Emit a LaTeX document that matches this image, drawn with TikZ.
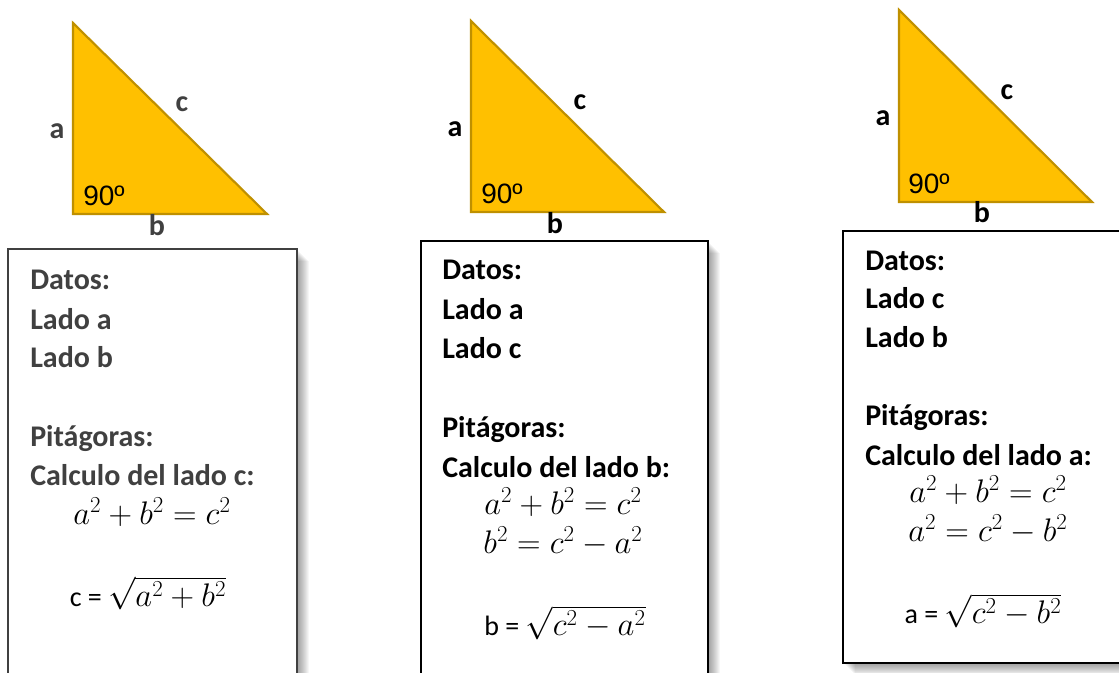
\RequirePackage{fix-cm}
\documentclass[tikz,border=0pt]{standalone}
\usepackage{fontspec}
\setmainfont{Carlito}
\newfontfamily\arialf{Liberation Sans}
\usetikzlibrary{calc}
\definecolor{triFill}{HTML}{FFC000}
\definecolor{triLine}{HTML}{BF9000}
\definecolor{txtA}{HTML}{404040}
\definecolor{boxA}{HTML}{404040}
\tikzset{
  tri/.style={fill=triFill, draw=triLine, line width=1.6pt, line join=miter},
  sidelbl/.style={inner sep=0pt, font=\bfseries\fontsize{22.5}{27}\selectfont},
  ninety/.style={anchor=base west, inner sep=0pt, font=\arialf\fontsize{21}{25}\selectfont},
  txtline/.style={anchor=base west, inner sep=0pt, font=\bfseries\fontsize{22.5}{27}\selectfont},
  eqline/.style={anchor=base, inner sep=0pt, font=\fontsize{24.5}{29}\selectfont},
  boxframe/.style={fill=white, draw=#1, line width=1.5pt},
}
\newcommand{\lhs}[1]{{\fontsize{21}{25}\selectfont #1 = }}
\newcommand{\shadowrect}[4]{%
  \foreach \k in {1,...,12}{%
    \fill[black, opacity=0.035] (#1+\k, #2+\k) rectangle (#3+\k, #4+\k);
  }%
}
\begin{document}
\begin{tikzpicture}[x=0.75pt, y=-0.75pt]
\useasboundingbox (0,0) rectangle (1119,673);
\clip (0,0) rectangle (1119,673);
\fill[white] (0,0) rectangle (1119,673);

% ---------- Triangle 1 ----------
\coordinate (t1top) at (73,23);
\coordinate (t1bl) at (73,214);
\coordinate (t1br) at (267,214);
\draw[tri] (t1top) -- (t1bl) -- (t1br) -- cycle;
\node[sidelbl, text=txtA] (t1a) at (57,131) {a};
\node[sidelbl, text=txtA] (t1c) at (182,104) {c};
\node[sidelbl, text=txtA] (t1b) at (157,225) {b};
\node[ninety] (t1n) at (83,206) {90º};

% ---------- Triangle 2 ----------
\coordinate (t2top) at (471,21);
\coordinate (t2bl) at (471,212);
\coordinate (t2br) at (664,212);
\draw[tri] (t2top) -- (t2bl) -- (t2br) -- cycle;
\node[sidelbl] (t2a) at (455,129) {a};
\node[sidelbl] (t2c) at (580,102) {c};
\node[sidelbl] (t2b) at (555,223) {b};
\node[ninety] (t2n) at (481,204) {90º};

% ---------- Triangle 3 ----------
\coordinate (t3top) at (899,10);
\coordinate (t3bl) at (899,202);
\coordinate (t3br) at (1092,202);
\draw[tri] (t3top) -- (t3bl) -- (t3br) -- cycle;
\node[sidelbl] (t3a) at (883,118) {a};
\node[sidelbl] (t3c) at (1007,92) {c};
\node[sidelbl] (t3b) at (982,212) {b};
\node[ninety] (t3n) at (908,194) {90º};

% ---------- Box 1 ----------
\shadowrect{8}{249}{297}{681}
\draw[boxframe=boxA] (8,249) rectangle (297,681);
\node[txtline, text=txtA] (b1l1) at (30,290) {Datos:};
\node[txtline, text=txtA] (b1l2) at (30,329) {Lado a};
\node[txtline, text=txtA] (b1l3) at (30,367) {Lado b};
\node[txtline, text=txtA] (b1l4) at (30,446) {Pitágoras:};
\node[txtline, text=txtA] (b1l5) at (30,485) {Calculo del lado c:};
\node[eqline] (b1e1) at (152,524) {$a^2+b^2=c^2$};
\node[eqline] (b1e2) at (148,606) {\lhs{c}$\sqrt{a^2+b^2}$};

% ---------- Box 2 ----------
\shadowrect{421}{241}{708}{690}
\draw[boxframe=black] (421,241) rectangle (708,690);
\node[txtline] (b2l1) at (442,280) {Datos:};
\node[txtline] (b2l2) at (442,319) {Lado a};
\node[txtline] (b2l3) at (442,358) {Lado c};
\node[txtline] (b2l4) at (442,437) {Pitágoras:};
\node[txtline] (b2l5) at (442,477) {Calculo del lado b:};
\node[eqline] (b2e1) at (563,514) {$a^2+b^2=c^2$};
\node[eqline] (b2e2) at (563,553) {$b^2=c^2-a^2$};
\node[eqline] (b2e3) at (565,635) {\lhs{b}$\sqrt{c^2-a^2}$};

% ---------- Box 3 ----------
\shadowrect{843}{231}{1140}{663}
\draw[boxframe=black] (843,231) rectangle (1140,663);
\node[txtline] (b3l1) at (865,271) {Datos:};
\node[txtline] (b3l2) at (865,308) {Lado c};
\node[txtline] (b3l3) at (865,347) {Lado b};
\node[txtline] (b3l4) at (865,425) {Pitágoras:};
\node[txtline] (b3l5) at (865,465) {Calculo del lado a:};
\node[eqline] (b3e1) at (988,502) {$a^2+b^2=c^2$};
\node[eqline] (b3e2) at (988,541) {$a^2=c^2-b^2$};
\node[eqline] (b3e3) at (983,623) {\lhs{a}$\sqrt{c^2-b^2}$};
\end{tikzpicture}
\end{document}
